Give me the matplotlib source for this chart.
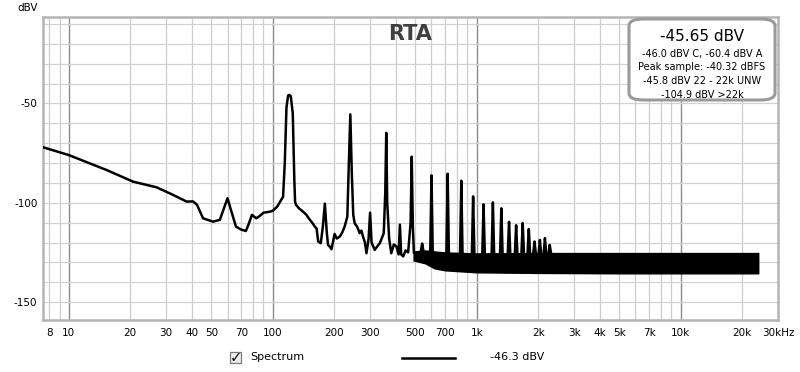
import matplotlib
matplotlib.use("Agg")
import matplotlib.pyplot as plt
from matplotlib.patches import FancyBboxPatch, Rectangle
from matplotlib.lines import Line2D
import numpy as np

# ---- data ----
curve_freq = [7.5, 10, 15.3, 20.7, 26.9, 32.4, 37.8, 40.6, 42.5, 45.5, 50.9, 55, 57.5, 60, 62.5,
              66, 70, 73.8, 76, 79, 83, 86.4, 90, 96.7, 100, 105, 112.3, 114.5, 116.7, 118.9,
              120.5, 122.5, 125.3, 127.5, 128.6, 130, 135, 140.8, 146, 152, 156, 160.8, 164, 167,
              171.9, 176, 180, 184, 186.6, 190, 194, 201, 206, 213, 219, 225, 232, 236, 240, 244,
              248, 252, 259, 266.8, 272, 277, 283, 288, 295, 300, 305, 316, 325, 335, 350, 356,
              360, 364, 372, 381, 392, 404, 414, 420, 426, 436, 448, 461, 474, 480, 486, 492]
curve_db = [-72.1, -76, -83.5, -89.4, -92.2, -96, -99.4, -99.3, -101, -107.8, -109.5, -108.6, -103,
            -97.7, -104, -112, -113.5, -114.2, -111, -106.1, -107.8, -106.6, -105, -104.5, -104,
            -102, -97, -80, -52, -46, -45.7, -46.3, -55, -88, -99.5, -101, -103, -104.5, -106,
            -108.6, -110, -112, -113, -119.5, -120.3, -112, -100.4, -115, -121.2, -122, -123.4,
            -115.7, -118, -117, -115, -112, -107, -80, -55.5, -85, -106, -110.3, -112, -115.3,
            -114, -117, -120, -125.4, -118, -105, -120, -123.7, -122, -120.3, -115.3, -95, -64.8,
            -100, -118, -125.4, -121, -122, -126, -111, -126, -127, -124, -125, -110, -76.8,
            -112, -125]

band_freq = [490, 560, 620, 700, 1000, 2000, 5000, 10000, 24000]
band_top = [-124.5, -124, -124.5, -125, -125.5, -125.3, -125.3, -125.3, -125.3]
band_bot = [-129, -130.5, -133, -134, -135, -135.3, -135.5, -135.5, -135.5]

harm_freq = [540, 600, 720, 840, 960, 1080, 1200, 1320, 1440, 1560, 1680, 1800, 1920, 2040,
             2160, 2280]
harm_db = [-120.5, -86.2, -85.4, -88.9, -96.8, -100.8, -99.8, -102.8, -109.6, -111.3, -110.2,
           -113.2, -119.5, -118.7, -117.8, -121.2]

xtick_vals = [8, 10, 20, 30, 40, 50, 70, 100, 200, 300, 500, 700, 1000, 2000, 3000, 4000,
              5000, 7000, 10000, 20000, 30000]
xtick_labels = ["8", "10", "20", "30", "40", "50", "70", "100", "200", "300", "500", "700",
                "1k", "2k", "3k", "4k", "5k", "7k", "10k", "20k", "30kHz"]
ytick_vals = [-50, -100, -150]
ytick_labels = ["-50", "-100", "-150"]

info_main = "-45.65 dBV"
info_lines = ["-46.0 dBV C, -60.4 dBV A", "Peak sample: -40.32 dBFS",
              "-45.8 dBV 22 - 22k UNW", "-104.9 dBV >22k"]
legend_name = "Spectrum"
legend_value = "-46.3 dBV"

# ---- figure ----
W, H = 800, 372
fig = plt.figure(figsize=(W / 100, H / 100), dpi=100)
plt.rcParams['font.family'] = ['DejaVu Sans']
L, R, T, B = 43, 778, 17, 320
ax = fig.add_axes([L / W, 1 - B / H, (R - L) / W, (B - T) / H])
ax.set_xscale('log')
ax.set_xlim(7.47, 29850)
ax.set_ylim(-159, -6.5)

# grid
for dec in [1, 10, 100, 1000, 10000]:
    for m in range(1, 10):
        f = dec * m
        if 7.47 < f < 29850:
            if m == 1:
                ax.axvline(f, color='#8c8c8c', lw=1.0, zorder=1)
            else:
                ax.axvline(f, color='#cdcdcd', lw=0.9, zorder=1)
for yv in range(-150, 0, 10):
    ax.axhline(yv, color='#d2d2d2', lw=0.9, zorder=1)

# spectrum
ax.plot(curve_freq, curve_db, color='black', lw=1.8, zorder=3, solid_joinstyle='round')
ax.fill_between(band_freq, band_bot, band_top, color='black', lw=1.0, zorder=3)
for f, v in zip(harm_freq, harm_db):
    top = np.interp(np.log10(f), np.log10(band_freq), band_top)
    ax.plot([f * 0.986, f, f * 1.014], [top, v, top], color='black', lw=1.8, zorder=3,
            solid_joinstyle='round')

ax.set_xticks(xtick_vals)
ax.set_xticklabels(xtick_labels)
ax.xaxis.set_minor_locator(matplotlib.ticker.NullLocator())
ax.set_yticks(ytick_vals)
ax.set_yticklabels(ytick_labels)
ax.tick_params(axis='both', length=0, labelsize=7.5, colors='#000000')
ax.tick_params(axis='x', pad=6)
ax.tick_params(axis='y', pad=4)
for s in ax.spines.values():
    s.set_color('#b4b4b4')
    s.set_linewidth(1.8)

# title and labels
fig.text(410.5 / W, 1 - 34 / H, "RTA", ha='center', va='center', fontsize=15,
         fontweight='bold', color='#404040')
fig.text(17 / W, 1 - 8 / H, "dBV", ha='left', va='center', fontsize=7.5)

# info box
bx0, bx1, by0, by1 = 629, 775, 19, 100
box = FancyBboxPatch((bx0 / W, 1 - by1 / H), (bx1 - bx0) / W, (by1 - by0) / H,
                     boxstyle="round,pad=0,rounding_size=0.018", transform=fig.transFigure,
                     facecolor='white', edgecolor='#9a9a9a', lw=2.2, zorder=5)
fig.add_artist(box)
cx = (bx0 + bx1) / 2
fig.text(cx / W, 1 - 36.5 / H, info_main, ha='center', va='center', fontsize=11, zorder=6)
for i, line in enumerate(info_lines):
    fig.text(cx / W, 1 - (53.5 + 14 * i) / H, line, ha='center', va='center', fontsize=7,
             zorder=6)

# legend
cb = Rectangle((230 / W, 1 - 363 / H), 11 / W, 11 / H, transform=fig.transFigure,
               facecolor='#eeeeee', edgecolor='#7a7a7a', lw=0.9)
fig.add_artist(cb)
fig.text(235.8 / W, 1 - 357.3 / H, "\u2713", ha='center', va='center', fontsize=10.5,
         fontweight='bold', color='#111111')
fig.text(250 / W, 1 - 357.5 / H, legend_name, ha='left', va='center', fontsize=8)
fig.add_artist(Line2D([402 / W, 455 / W], [1 - 357.7 / H, 1 - 357.7 / H],
                      transform=fig.transFigure, color='black', lw=1.8))
fig.text(490 / W, 1 - 357.5 / H, legend_value, ha='left', va='center', fontsize=8)

fig.savefig("out.png", dpi=100, facecolor='white')
